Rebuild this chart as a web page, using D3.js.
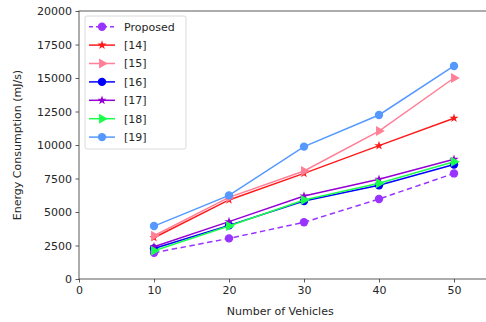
<!DOCTYPE html>
<html>
<head>
<meta charset="utf-8">
<script src="https://cdn.jsdelivr.net/npm/d3@7"></script>
<style>
  body { margin: 0; background: #fff; }
  text { font-family: "DejaVu Sans", sans-serif; fill: #262626; }
</style>
</head>
<body>
<div id="chart"></div>
<script>
const vehicles = [10, 20, 30, 40, 50];
const xTicks = [0, 10, 20, 30, 40, 50];
const yTicks = [0, 2500, 5000, 7500, 10000, 12500, 15000, 17500, 20000];

const proposed = [1960, 3030, 4230, 5970, 7880];
const ref14 = [3080, 5900, 7880, 9950, 12000];
const ref15 = [3230, 6090, 8060, 11040, 15000];
const ref16 = [2280, 4000, 5820, 7000, 8550];
const ref17 = [2410, 4280, 6190, 7440, 8930];
const ref18 = [2110, 3950, 5900, 7140, 8750];
const ref19 = [3950, 6240, 9880, 12240, 15900];

const series = [
  {name: 'Proposed', values: proposed, color: '#9933ff', marker: 'circle', dash: '5.5,3.5'},
  {name: '[14]', values: ref14, color: '#ff1a1a', marker: 'star'},
  {name: '[15]', values: ref15, color: '#ff7f96', marker: 'triangle'},
  {name: '[16]', values: ref16, color: '#0000ff', marker: 'circle'},
  {name: '[17]', values: ref17, color: '#9400d3', marker: 'star'},
  {name: '[18]', values: ref18, color: '#1aff4d', marker: 'triangle'},
  {name: '[19]', values: ref19, color: '#5599ff', marker: 'circle'}
];

const svg = d3.select('#chart').append('svg')
    .attr('width', 486).attr('height', 322);

const margin = {top: 11, left: 79, bottom: 43};
const height = 322 - margin.top - margin.bottom;

const x = d3.scaleLinear().domain([0, 55]).range([0, 412.5]);
const y = d3.scaleLinear().domain([0, 20000]).range([height, 0]);

const g = svg.append('g')
    .attr('transform', 'translate(' + margin.left + ',' + margin.top + ')');

// frame
g.append('rect')
    .attr('width', x(55)).attr('height', height)
    .attr('fill', 'none').attr('stroke', '#333').attr('stroke-width', 0.8);

const xAxis = g.append('g')
    .attr('transform', 'translate(0,' + height + ')')
    .call(d3.axisBottom(x).tickValues(xTicks).tickSize(3.5).tickPadding(3.5));
const yAxis = g.append('g')
    .call(d3.axisLeft(y).tickValues(yTicks).tickFormat(d3.format('d')).tickSize(3.5).tickPadding(3.5));

[xAxis, yAxis].forEach(a => {
  a.select('.domain').remove();
  a.selectAll('line').attr('stroke', '#333').attr('stroke-width', 0.8);
  a.selectAll('text').attr('font-size', 11).attr('font-family', 'DejaVu Sans').attr('fill', '#262626');
});

svg.append('text')
    .attr('x', margin.left + x(27.5) - 5).attr('y', 315)
    .attr('text-anchor', 'middle').attr('font-size', 11)
    .text('Number of Vehicles');

svg.append('text')
    .attr('transform', 'translate(21,' + (margin.top + height / 2) + ') rotate(-90)')
    .attr('text-anchor', 'middle').attr('font-size', 11)
    .text('Energy Consumption (mJ/s)');

const line = d3.line()
    .x((d, i) => x(vehicles[i]))
    .y(d => y(d));

function drawMarker(sel, type, color, px, py) {
  if (type === 'circle') {
    sel.append('circle').attr('cx', px).attr('cy', py).attr('r', 4.2).attr('fill', color);
  } else if (type === 'star') {
    sel.append('path').attr('d', d3.symbol(d3.symbolStar, 26)())
        .attr('transform', 'translate(' + px + ',' + py + ')').attr('fill', color);
  } else {
    sel.append('path').attr('d', d3.symbol(d3.symbolTriangle, 44)())
        .attr('transform', 'translate(' + px + ',' + py + ') rotate(90)').attr('fill', color);
  }
}

series.forEach(s => {
  g.append('path')
      .datum(s.values)
      .attr('fill', 'none')
      .attr('stroke', s.color)
      .attr('stroke-width', 1.5)
      .attr('stroke-dasharray', s.dash || null)
      .attr('d', line);
  s.values.forEach((v, i) => drawMarker(g, s.marker, s.color, x(vehicles[i]), y(v)));
});

// legend
const legend = svg.append('g').attr('transform', 'translate(85,16)');
legend.append('rect')
    .attr('width', 101).attr('height', 133).attr('rx', 2)
    .attr('fill', '#fff').attr('fill-opacity', 0.8)
    .attr('stroke', '#d0d0d0').attr('stroke-width', 0.8);

series.forEach((s, i) => {
  const ly = 10.7 + i * 18.4;
  legend.append('line')
      .attr('x1', 4).attr('x2', 30).attr('y1', ly).attr('y2', ly)
      .attr('stroke', s.color).attr('stroke-width', 1.5)
      .attr('stroke-dasharray', s.dash ? '4,3' : null);
  drawMarker(legend, s.marker, s.color, 17, ly);
  legend.append('text')
      .attr('x', 39).attr('y', ly).attr('dy', '0.35em')
      .attr('font-size', 11)
      .text(s.name);
});
</script>
</body>
</html>
